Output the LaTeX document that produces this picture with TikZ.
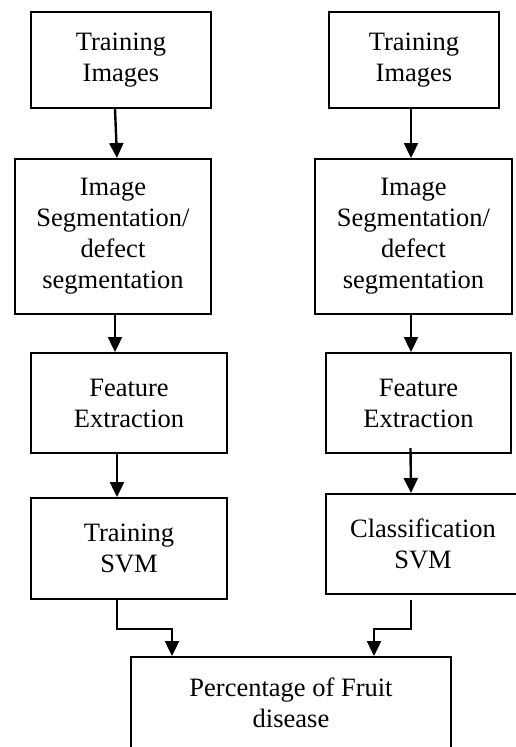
\documentclass[tikz,border=0pt]{standalone}
\usepackage{fontspec}
\setmainfont{Liberation Serif}
\usetikzlibrary{arrows.meta,calc}
\tikzset{
  box/.style={draw, line width=2pt, align=center, inner sep=0pt,
    font=\fontsize{26.5}{31}\selectfont},
  arr/.style={line width=2.4pt, -{Triangle[width=14pt,length=15pt]}}
}
\begin{document}
\begin{tikzpicture}[x=1pt,y=-1pt]
\useasboundingbox (0,0) rectangle (516,747);
\fill[white] (0,0) rectangle (516,747);
% left column
\node[box, minimum width=180, minimum height=96] (l1) at (121,60) {Training\\Images};
\node[box, minimum width=196, minimum height=155] (l2) at (113,236.5) {Image\\Segmentation/\\defect\\segmentation};
\node[box, minimum width=196, minimum height=100] (l3) at (129,403) {Feature\\Extraction};
\node[box, minimum width=196, minimum height=101] (l4) at (129,548.5) {Training\\SVM};
% right column
\node[box, minimum width=170, minimum height=96] (r1) at (414,60) {Training\\Images};
\node[box, minimum width=197, minimum height=155] (r2) at (413.5,236.5) {Image\\Segmentation/\\defect\\segmentation};
\node[box, minimum width=185, minimum height=100] (r3) at (418.5,403) {Feature\\Extraction};
\node[box, minimum width=194, minimum height=100] (r4) at (423,544) {Classification\\SVM};
% bottom
\node[box, minimum width=320, minimum height=92] (b) at (291,703) {Percentage of Fruit\\disease};
% arrows left
\draw[arr] ($(l1.south)+(-6,0)$) -- ($(l2.north)+(4,0)$);
\draw[arr] ($(l2.south)+(2,0)$) -- ($(l3.north)+(-14,0)$);
\draw[arr] ($(l3.south)+(-12,0)$) -- ($(l4.north)+(-12,0)$);
\draw[arr] ($(l4.south)+(-12,0)$) -- ++(0,29) -| ($(b.north)+(-119,0)$);
% arrows right
\draw[arr] ($(r1.south)+(-3,0)$) -- ($(r2.north)+(-2.5,0)$);
\draw[arr] ($(r2.south)+(-2.5,0)$) -- ($(r3.north)+(-7.5,0)$);
\draw[arr] ($(r3.south)+(-8,-6)$) -- ($(r4.north)+(-12,0)$);
\draw[arr] ($(r4.south)+(-12,5)$) -- ++(0,29) -| ($(b.north)+(83,0)$);
\end{tikzpicture}
\end{document}
